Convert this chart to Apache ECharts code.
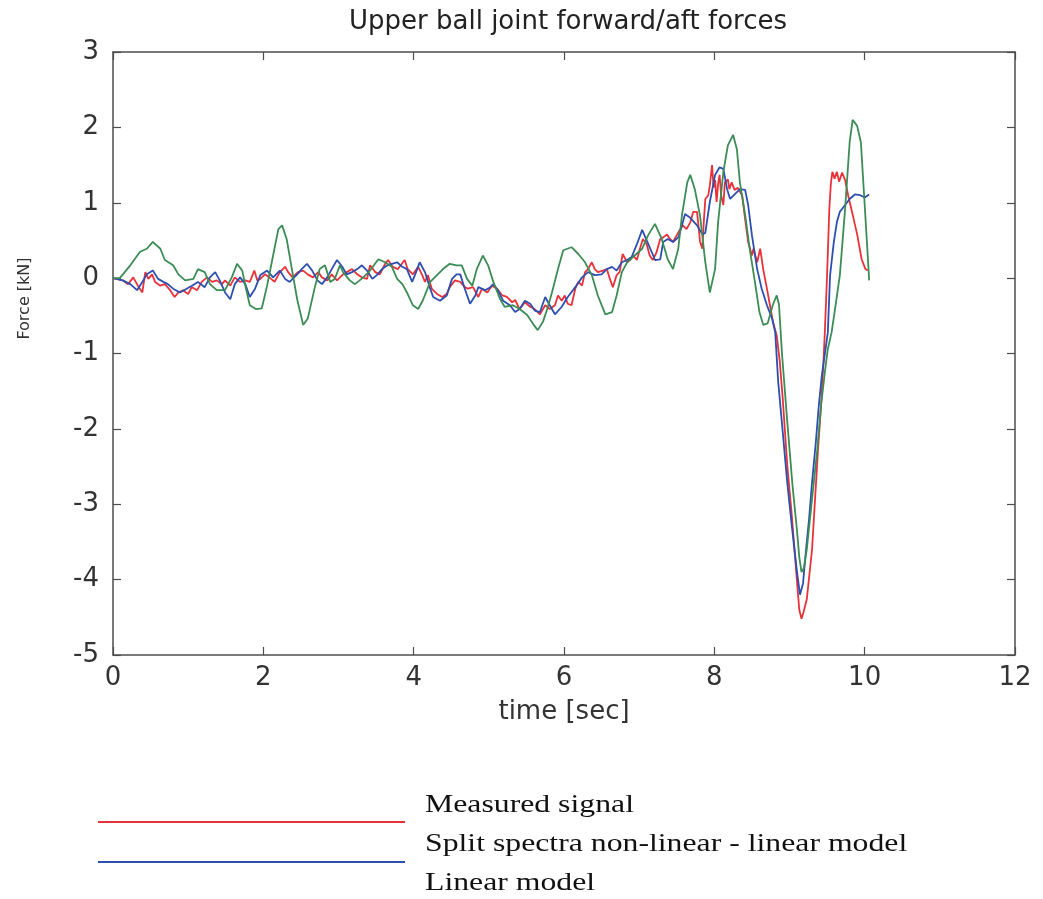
<!DOCTYPE html>
<html>
<head>
<meta charset="utf-8">
<title>Upper ball joint forward/aft forces</title>
<script src="https://cdn.jsdelivr.net/npm/echarts@6/dist/echarts.min.js"></script>
<style>
  html, body { margin: 0; padding: 0; background: #ffffff; }
  #chart { width: 1043px; height: 899px; }
</style>
</head>
<body>
<div id="chart"></div>
<script>
// Axis ticks
const timeTicks = [0, 2, 4, 6, 8, 10, 12];
const forceTicks = [-5, -4, -3, -2, -1, 0, 1, 2, 3];

// Series names
const seriesNames = ['Measured signal', 'Split spectra non-linear - linear model', 'Linear model'];

// Measured signal: [time (s), force (kN)]
const measured = [
  [0,0],[0.13,-0.03],[0.2,-0.08],[0.27,0.01],[0.33,-0.1],[0.39,-0.19],[0.43,0.08],[0.47,-0.01],[0.52,0.05],[0.56,-0.05],
  [0.63,-0.1],[0.69,-0.08],[0.76,-0.16],[0.82,-0.25],[0.87,-0.19],[0.93,-0.16],[1.0,-0.21],[1.05,-0.12],[1.12,-0.16],[1.18,-0.05],
  [1.25,0.01],[1.32,-0.05],[1.38,-0.03],[1.45,-0.08],[1.49,-0.03],[1.56,-0.1],[1.62,0.01],[1.69,-0.05],[1.76,-0.03],[1.82,-0.05],
  [1.88,0.1],[1.92,-0.03],[1.96,-0.01],[2.02,0.05],[2.08,0.01],[2.15,-0.05],[2.22,0.08],[2.29,0.15],[2.33,0.08],[2.39,0.01],
  [2.46,0.08],[2.53,0.1],[2.59,0.05],[2.66,0.01],[2.73,0.08],[2.78,0.01],[2.85,-0.03],[2.91,0.05],[2.98,-0.03],[3.05,0.04],
  [3.11,0.08],[3.18,0.12],[3.25,0.05],[3.31,0.01],[3.38,-0.01],[3.42,0.17],[3.49,0.08],[3.55,0.05],[3.62,0.19],[3.66,0.24],
  [3.72,0.15],[3.79,0.12],[3.85,0.2],[3.88,0.24],[3.92,0.12],[3.99,0.05],[4.06,0.15],[4.11,0.05],[4.15,-0.05],[4.19,0.04],
  [4.24,-0.14],[4.31,-0.21],[4.38,-0.25],[4.44,-0.21],[4.48,-0.12],[4.55,-0.03],[4.62,-0.05],[4.68,-0.12],[4.72,-0.14],[4.79,-0.12],
  [4.86,-0.25],[4.91,-0.14],[4.98,-0.19],[5.04,-0.1],[5.11,-0.14],[5.18,-0.23],[5.24,-0.25],[5.31,-0.32],[5.35,-0.29],[5.41,-0.41],
  [5.48,-0.32],[5.55,-0.38],[5.61,-0.41],[5.68,-0.48],[5.75,-0.36],[5.81,-0.41],[5.88,-0.36],[5.92,-0.23],[5.97,-0.3],[6.01,-0.23],
  [6.05,-0.34],[6.1,-0.36],[6.15,-0.14],[6.19,-0.05],[6.24,-0.1],[6.28,0.08],[6.32,0.12],[6.37,0.21],[6.41,0.12],[6.45,0.08],
  [6.52,0.1],[6.57,0.12],[6.61,-0.01],[6.65,-0.12],[6.7,0.04],[6.74,0.08],[6.78,0.32],[6.84,0.21],[6.88,0.24],[6.92,0.3],
  [6.97,0.24],[7.01,0.39],[7.05,0.52],[7.1,0.45],[7.14,0.3],[7.18,0.24],[7.23,0.34],[7.28,0.52],[7.32,0.54],[7.37,0.58],
  [7.41,0.52],[7.45,0.48],[7.5,0.57],[7.54,0.64],[7.58,0.7],[7.63,0.65],[7.68,0.74],[7.72,0.88],[7.77,0.88],[7.81,0.48],
  [7.84,0.39],[7.86,0.75],[7.88,1.05],[7.92,1.1],[7.94,1.23],[7.97,1.5],[7.99,1.2],[8.01,1.3],[8.03,1.01],[8.05,1.25],
  [8.07,1.37],[8.09,1.1],[8.12,0.97],[8.14,1.27],[8.18,1.31],[8.2,1.18],[8.23,1.27],[8.27,1.17],[8.31,1.2],[8.37,1.1],
  [8.41,0.78],[8.45,0.48],[8.5,0.3],[8.52,0.39],[8.57,0.21],[8.61,0.39],[8.65,0.12],[8.7,-0.14],[8.74,-0.36],[8.78,-0.58],
  [8.83,-0.76],[8.87,-1.1],[8.91,-1.6],[8.97,-2.48],[9.03,-3.14],[9.1,-4.03],[9.13,-4.4],[9.16,-4.52],[9.19,-4.42],[9.23,-4.26],
  [9.3,-3.6],[9.34,-2.93],[9.38,-2.27],[9.42,-1.69],[9.45,-1.15],[9.47,-0.72],[9.5,0.04],[9.53,0.92],[9.55,1.25],[9.57,1.41],
  [9.6,1.32],[9.63,1.41],[9.66,1.28],[9.7,1.4],[9.74,1.3],[9.78,1.1],[9.85,0.8],[9.9,0.58],[9.96,0.25],[10.01,0.12],[10.04,0.1]
];

// Split spectra non-linear - linear model: [time (s), force (kN)]
const splitModel = [
  [0,0],[0.13,-0.03],[0.23,-0.08],[0.32,-0.16],[0.39,-0.05],[0.45,0.05],[0.53,0.1],[0.6,-0.01],[0.67,-0.05],[0.73,-0.08],
  [0.8,-0.14],[0.89,-0.19],[0.98,-0.14],[1.05,-0.1],[1.13,-0.05],[1.22,-0.12],[1.29,0.01],[1.36,0.08],[1.42,-0.03],[1.49,-0.19],
  [1.56,-0.28],[1.62,-0.08],[1.69,0.01],[1.76,-0.08],[1.82,-0.25],[1.89,-0.14],[1.96,0.04],[2.05,0.1],[2.13,0.01],[2.22,0.1],
  [2.29,-0.01],[2.35,-0.05],[2.45,0.05],[2.51,0.12],[2.58,0.19],[2.65,0.1],[2.72,-0.03],[2.78,-0.08],[2.85,0.01],[2.91,0.12],
  [2.98,0.24],[3.05,0.15],[3.11,0.05],[3.18,0.08],[3.25,0.12],[3.31,0.17],[3.38,0.1],[3.45,-0.01],[3.51,0.04],[3.58,0.12],
  [3.65,0.17],[3.71,0.19],[3.78,0.21],[3.85,0.15],[3.91,0.12],[3.98,-0.05],[4.04,0.1],[4.08,0.21],[4.15,0.08],[4.22,-0.14],
  [4.26,-0.25],[4.35,-0.3],[4.44,-0.23],[4.51,-0.01],[4.57,0.05],[4.62,0.05],[4.68,-0.14],[4.75,-0.34],[4.82,-0.23],[4.86,-0.12],
  [4.95,-0.16],[5.02,-0.12],[5.06,-0.08],[5.12,-0.16],[5.19,-0.3],[5.28,-0.36],[5.35,-0.45],[5.41,-0.41],[5.48,-0.3],[5.55,-0.34],
  [5.61,-0.43],[5.68,-0.45],[5.75,-0.25],[5.81,-0.36],[5.88,-0.48],[5.97,-0.38],[6.05,-0.25],[6.15,-0.12],[6.24,0.01],[6.32,0.08],
  [6.41,0.04],[6.5,0.05],[6.57,0.12],[6.64,0.15],[6.7,0.1],[6.77,0.21],[6.84,0.24],[6.9,0.28],[6.97,0.45],[7.04,0.64],
  [7.1,0.5],[7.17,0.34],[7.21,0.24],[7.28,0.25],[7.32,0.48],[7.38,0.52],[7.45,0.48],[7.52,0.54],[7.57,0.7],[7.61,0.85],
  [7.68,0.8],[7.77,0.7],[7.84,0.58],[7.88,0.6],[7.94,1.01],[8.01,1.37],[8.07,1.47],[8.12,1.45],[8.17,1.18],[8.21,1.05],
  [8.27,1.11],[8.34,1.18],[8.41,1.17],[8.45,0.97],[8.5,0.57],[8.57,0.12],[8.63,-0.14],[8.7,-0.36],[8.77,-0.54],[8.81,-0.72],
  [8.85,-1.38],[8.91,-2.04],[8.97,-2.71],[9.03,-3.28],[9.1,-3.9],[9.14,-4.2],[9.18,-4.05],[9.22,-3.6],[9.26,-3.2],[9.3,-2.71],
  [9.35,-2.18],[9.39,-1.69],[9.43,-1.29],[9.48,-0.94],[9.51,-0.72],[9.54,0.04],[9.59,0.48],[9.63,0.74],[9.67,0.88],[9.74,0.97],
  [9.8,1.05],[9.87,1.11],[9.94,1.1],[10.0,1.07],[10.06,1.11]
];

// Linear model: [time (s), force (kN)]
const linearModel = [
  [0,0],[0.09,0],[0.23,0.17],[0.36,0.35],[0.45,0.39],[0.53,0.48],[0.63,0.39],[0.69,0.24],[0.8,0.17],[0.87,0.05],
  [0.96,-0.03],[1.07,-0.01],[1.13,0.12],[1.22,0.08],[1.29,-0.08],[1.38,-0.16],[1.49,-0.16],[1.58,0.01],[1.65,0.19],[1.72,0.1],
  [1.76,-0.1],[1.82,-0.36],[1.9,-0.41],[1.98,-0.4],[2.05,-0.1],[2.12,0.25],[2.2,0.65],[2.25,0.7],[2.31,0.52],[2.38,0.12],
  [2.45,-0.28],[2.53,-0.62],[2.59,-0.54],[2.69,-0.1],[2.75,0.12],[2.82,0.17],[2.89,-0.05],[2.95,-0.01],[3.02,0.17],[3.06,0.08],
  [3.15,-0.03],[3.22,-0.08],[3.33,0.01],[3.42,0.1],[3.53,0.25],[3.62,0.21],[3.71,0.15],[3.78,-0.01],[3.85,-0.08],[3.91,-0.19],
  [3.99,-0.36],[4.06,-0.41],[4.12,-0.3],[4.22,-0.05],[4.31,0.04],[4.39,0.12],[4.48,0.19],[4.57,0.17],[4.64,0.17],[4.71,-0.01],
  [4.78,-0.1],[4.84,0.12],[4.92,0.3],[4.99,0.17],[5.06,-0.05],[5.15,-0.28],[5.21,-0.38],[5.32,-0.36],[5.41,-0.41],[5.51,-0.49],
  [5.59,-0.61],[5.65,-0.69],[5.72,-0.58],[5.78,-0.4],[5.84,-0.19],[5.92,0.12],[5.99,0.37],[6.1,0.41],[6.19,0.32],[6.28,0.21],
  [6.37,0.04],[6.45,-0.23],[6.55,-0.48],[6.64,-0.45],[6.7,-0.23],[6.77,0.08],[6.84,0.21],[6.94,0.3],[7.04,0.39],[7.12,0.57],
  [7.21,0.72],[7.3,0.52],[7.38,0.25],[7.45,0.12],[7.52,0.39],[7.57,0.84],[7.64,1.27],[7.68,1.37],[7.74,1.18],[7.81,0.83],
  [7.88,0.21],[7.94,-0.19],[8.01,0.12],[8.05,0.74],[8.12,1.41],[8.18,1.76],[8.25,1.9],[8.3,1.71],[8.34,1.27],[8.41,0.84],
  [8.47,0.39],[8.54,-0.05],[8.6,-0.45],[8.65,-0.62],[8.71,-0.6],[8.78,-0.35],[8.83,-0.23],[8.86,-0.35],[8.9,-1.0],[8.97,-1.9],
  [9.04,-2.75],[9.1,-3.35],[9.13,-3.7],[9.16,-3.9],[9.19,-3.85],[9.23,-3.6],[9.3,-2.93],[9.37,-2.27],[9.42,-1.69],[9.47,-1.25],
  [9.51,-0.94],[9.56,-0.72],[9.6,-0.45],[9.67,0.04],[9.74,0.92],[9.8,1.8],[9.84,2.1],[9.9,2.02],[9.95,1.8],[9.99,1.14],
  [10.03,0.48],[10.06,-0.03]
];

const lineColors = ['#e8323a', '#2c4fb0', '#3c8c55'];
const frameColor = '#4d4d4d';
const sansFont = '"DejaVu Sans", "Liberation Sans", sans-serif';
const serifFont = '"Liberation Serif", "DejaVu Serif", serif';

const chart = echarts.init(document.getElementById('chart'), null, { renderer: 'canvas' });

// Boxed frame: every axis draws its line with inward ticks
function frameAxis(extra) {
  return Object.assign({
    type: 'value',
    axisLine: { show: true, onZero: false, lineStyle: { color: frameColor, width: 1.5 } },
    axisTick: { show: true, inside: true, length: 8, lineStyle: { color: frameColor, width: 1.2 } },
    splitLine: { show: false },
    axisLabel: { show: false }
  }, extra);
}

const tickLabel = { show: true, fontFamily: sansFont, fontSize: 26, color: '#333333' };

// Legend rows: sample line under each label
const legendRows = seriesNames.map((name, i) => [
  {
    type: 'line',
    shape: { x1: 98, y1: 822 + i * 40, x2: 405, y2: 822 + i * 40 },
    style: { stroke: lineColors[i], lineWidth: 2.2 },
    silent: true
  },
  {
    type: 'text',
    x: 425,
    y: 805 + i * 39,
    scaleX: 1.27,
    style: {
      text: name,
      font: '25px ' + serifFont,
      fill: '#111111',
      verticalAlign: 'middle',
      align: 'left'
    },
    silent: true
  }
]).flat();

const option = {
  backgroundColor: '#ffffff',
  animation: false,
  title: {
    text: 'Upper ball joint forward/aft forces',
    left: 563,
    top: 4,
    textAlign: 'center',
    textStyle: { fontFamily: sansFont, fontSize: 26, fontWeight: 'normal', color: '#222222' }
  },
  grid: { left: 113, right: 28, top: 52, bottom: 244, containLabel: false },
  xAxis: [
    frameAxis({
      position: 'bottom', min: 0, max: 12, interval: 2,
      axisLabel: Object.assign({ margin: 10, formatter: v => timeTicks.includes(v) ? String(v) : '' }, tickLabel),
      name: 'time [sec]', nameLocation: 'middle', nameGap: 44,
      nameTextStyle: { fontFamily: sansFont, fontSize: 26, color: '#333333' }
    }),
    frameAxis({ position: 'top', min: 0, max: 12, interval: 2 })
  ],
  yAxis: [
    frameAxis({
      position: 'left', min: -5, max: 3, interval: 1,
      axisLabel: Object.assign({ margin: 14, formatter: v => forceTicks.includes(v) ? String(v) : '' }, tickLabel),
      name: 'Force [kN]', nameLocation: 'middle', nameGap: 80,
      nameTextStyle: { fontFamily: sansFont, fontSize: 16, color: '#333333', padding: [0, 0, 0, 110] }
    }),
    frameAxis({ position: 'right', min: -5, max: 3, interval: 1 })
  ],
  series: [
    { name: seriesNames[0], type: 'line', data: measured, showSymbol: false, lineStyle: { color: lineColors[0], width: 1.8 }, itemStyle: { color: lineColors[0] } },
    { name: seriesNames[1], type: 'line', data: splitModel, showSymbol: false, lineStyle: { color: lineColors[1], width: 1.8 }, itemStyle: { color: lineColors[1] } },
    { name: seriesNames[2], type: 'line', data: linearModel, showSymbol: false, lineStyle: { color: lineColors[2], width: 1.8 }, itemStyle: { color: lineColors[2] } }
  ],
  graphic: legendRows
};

chart.setOption(option);
</script>
</body>
</html>
